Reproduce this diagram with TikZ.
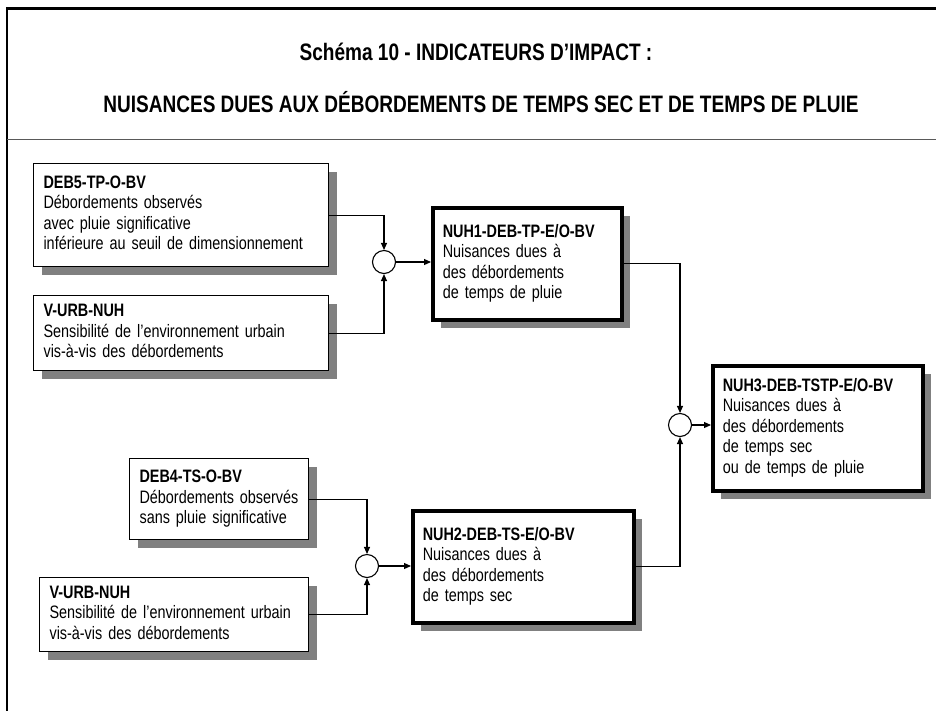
\documentclass[tikz,border=0pt]{standalone}
\usepackage{fontspec}
\setmainfont{Liberation Sans}[FakeStretch=0.8]
\usetikzlibrary{arrows.meta,shadows}
\newcommand{\boxlines}[1]{\begin{tabular}{@{}l@{}}#1\end{tabular}}
\tikzset{
  box/.style={draw, line width=1.1pt, fill=white, anchor=north west,
    inner xsep=10pt, inner ysep=0pt, align=left,
    font=\fontsize{18}{20.5}\selectfont,
    drop shadow={shadow xshift=8pt, shadow yshift=-8pt, fill=black!50, opacity=1}},
  thickbox/.style={box, line width=3.5pt},
  sumnode/.style={circle, draw, line width=1.1pt, minimum size=23pt, inner sep=0pt, fill=white},
  conn/.style={line width=1.1pt},
  arr/.style={conn, -{Triangle[length=7pt,width=6pt]}},
  titletext/.style={anchor=base, font=\fontsize{23.8}{28}\selectfont\bfseries},
}
\begin{document}
\begin{tikzpicture}[x=1pt,y=-1pt]
\useasboundingbox (0,0) rectangle (936,710);
\clip (0,0) rectangle (936,710);
\fill[white] (0,0) rectangle (936,710);
% frame
\draw[line width=2.7pt] (7,8.5) rectangle (980,760);
\draw[line width=1.3pt, black!65] (7,139.3) -- (980,139.3);
% titles
\node[titletext] (t1) at (476,60) {Schéma 10 - INDICATEURS D’IMPACT :};
\node[titletext] (t2) at (481,112) {NUISANCES DUES AUX DÉBORDEMENTS DE TEMPS SEC ET DE TEMPS DE PLUIE};
% boxes
\node[box, text width=275pt, minimum height=103pt] (deb5) at (33,163)
  {\boxlines{\textbf{DEB5-TP-O-BV}\\Débordements observés\\avec pluie significative\\inférieure au seuil de dimensionnement}};
\node[box, text width=275pt, minimum height=75pt] (vurb1) at (33,295)
  {\boxlines{\textbf{V-URB-NUH}\\Sensibilité de l’environnement urbain\\vis-à-vis des débordements}};
\node[thickbox, text width=169pt, minimum height=112pt] (nuh1) at (431,206)
  {\boxlines{\textbf{NUH1-DEB-TP-E/O-BV}\\Nuisances dues à\\des débordements\\de temps de pluie}};
\node[thickbox, text width=190pt, minimum height=125pt] (nuh3) at (711,364)
  {\boxlines{\textbf{NUH3-DEB-TSTP-E/O-BV}\\Nuisances dues à\\des débordements\\de temps sec\\ou de temps de pluie}};
\node[box, text width=159pt, minimum height=81pt] (deb4) at (129,458)
  {\boxlines{\textbf{DEB4-TS-O-BV}\\Débordements observés\\sans pluie significative}};
\node[box, text width=249pt, minimum height=74pt] (vurb2) at (39,577)
  {\boxlines{\textbf{V-URB-NUH}\\Sensibilité de l’environnement urbain\\vis-à-vis des débordements}};
\node[thickbox, text width=201pt, minimum height=112pt] (nuh2) at (411,509)
  {\boxlines{\textbf{NUH2-DEB-TS-E/O-BV}\\Nuisances dues à\\des débordements\\de temps sec}};
% summing circles
\node[sumnode] (c1) at (384,262) {};
\node[sumnode] (c2) at (680,425) {};
\node[sumnode] (c3) at (367,566) {};
% connectors
\draw[arr] (deb5.east) -| (c1.north);
\draw[arr] (vurb1.east) -| (c1.south);
\draw[arr] (c1.east) -- (c1.east -| nuh1.west);
\draw[arr] (nuh1.east) -| (c2.north);
\draw[arr] (nuh2.east) -| (c2.south);
\draw[arr] (c2.east) -- (c2.east -| nuh3.west);
\draw[arr] (deb4.east) -| (c3.north);
\draw[arr] (vurb2.east) -| (c3.south);
\draw[arr] (c3.east) -- (c3.east -| nuh2.west);
\end{tikzpicture}
\end{document}
